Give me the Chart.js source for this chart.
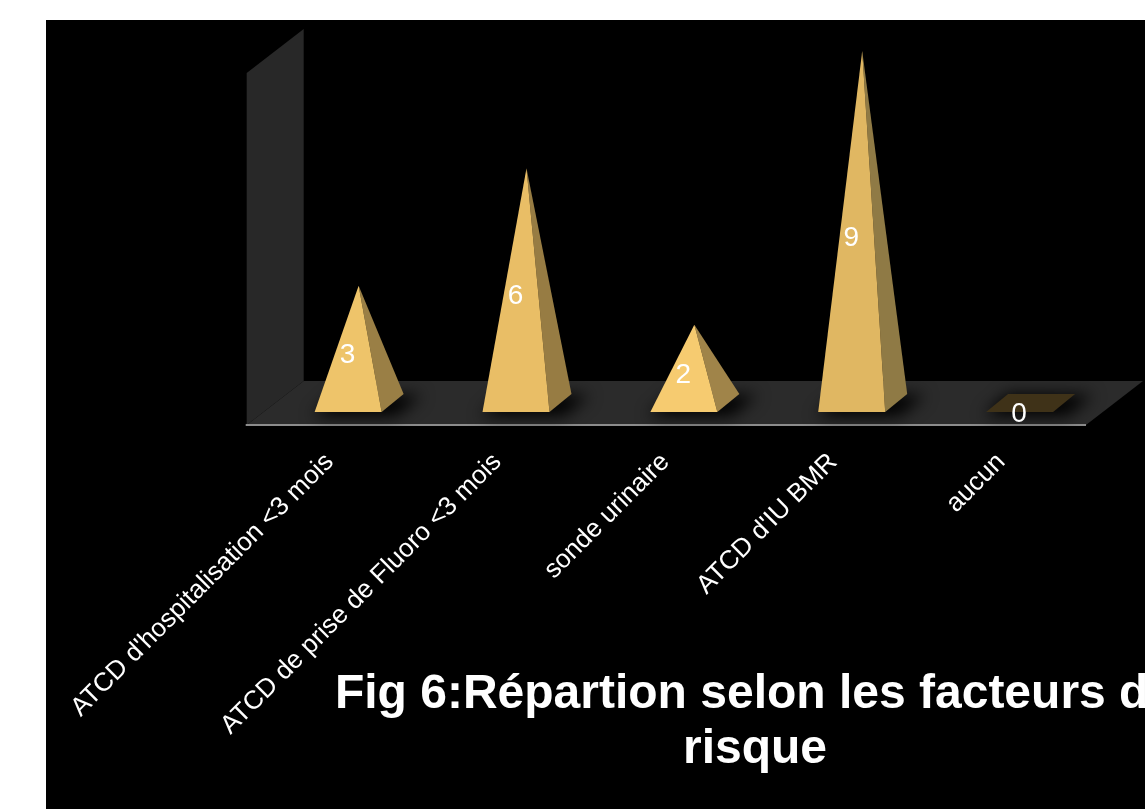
<!DOCTYPE html>
<html>
<head>
<meta charset="utf-8">
<title>Répartion selon les facteurs de risque</title>
<script src="https://cdn.jsdelivr.net/npm/chart.js@4"></script>
<style>
    html, body { margin: 0; height: 100%; background: #fff; overflow: hidden; }
    #chart { position: absolute; left: 46px; top: 20px; background: #000; }
</style>
</head>
<body>
<canvas id="chart" width="1099" height="789"></canvas>
<script>
const categories = [
    "ATCD d'hospitalisation <3 mois",
    "ATCD de prise de Fluoro <3 mois",
    "sonde urinaire",
    "ATCD d'IU BMR",
    "aucun"
];
const counts = [3, 6, 2, 9, 0];
const titleLines = ["Fig 6:Répartion selon les facteurs de", "risque"];

const faceColors = ['#EEC46A', '#E9BE66', '#F6CB70', '#E0B762', '#3F3218'];
const sideColors = ['#9A7F45', '#977C43', '#A08449', '#8F7A45', '#3F3218'];

// offsets of the fake 3D box around the plot area
const BACK = { x: 29, y: -22 };
const FRONT = { x: -28, y: 22 };

function fillPoly(ctx, pts, color) {
    ctx.fillStyle = color;
    ctx.beginPath();
    pts.forEach((p, i) => i ? ctx.lineTo(p[0], p[1]) : ctx.moveTo(p[0], p[1]));
    ctx.closePath();
    ctx.fill();
}

const boxPlugin = {
    id: 'box3d',
    beforeDatasetsDraw(chart) {
        const { ctx, chartArea: a } = chart;
        // back wall
        fillPoly(ctx, [
            [a.left + FRONT.x, a.top + FRONT.y],
            [a.left + BACK.x, a.top + BACK.y],
            [a.left + BACK.x, a.bottom + BACK.y],
            [a.left + FRONT.x, a.bottom + FRONT.y]
        ], '#282828');
        // floor
        fillPoly(ctx, [
            [a.left + FRONT.x, a.bottom + FRONT.y],
            [a.left + BACK.x, a.bottom + BACK.y],
            [a.right + BACK.x, a.bottom + BACK.y],
            [a.right + FRONT.x, a.bottom + FRONT.y]
        ], '#2B2B2B');
        // front edge of the floor
        ctx.strokeStyle = '#8C8C8C';
        ctx.lineWidth = 2;
        ctx.beginPath();
        ctx.moveTo(a.left + FRONT.x - 1, a.bottom + FRONT.y);
        ctx.lineTo(a.right + FRONT.x, a.bottom + FRONT.y);
        ctx.stroke();
    }
};

const pyramidPlugin = {
    id: 'pyramids',
    afterDatasetsDraw(chart) {
        const ctx = chart.ctx;
        const bars = chart.getDatasetMeta(0).data;
        const zero = chart.scales.y.getPixelForValue(0);

        bars.forEach((bar, i) => {
            const x = bar.x;
            const apex = [x, bar.y];
            const fl = [x - 44, zero + 9];
            const fr = [x + 23, zero + 9];
            const br = [x + 45, zero - 9];
            const bl = [x - 22, zero - 9];

            // soft shadow under the base
            ctx.save();
            ctx.filter = 'blur(8px)';
            fillPoly(ctx, [[fl[0] - 2, fl[1] + 4], [fr[0] + 14, fr[1] + 4], [br[0] + 18, br[1] + 1], [bl[0], bl[1]]], '#000');
            ctx.restore();

            if (counts[i] === 0) {
                fillPoly(ctx, [fl, fr, br, bl], faceColors[i]);
            } else {
                fillPoly(ctx, [apex, fr, br], sideColors[i]);
                fillPoly(ctx, [apex, fl, fr], faceColors[i]);
            }

            // value label, on the front face
            ctx.fillStyle = '#fff';
            ctx.font = '28px "Liberation Sans"';
            ctx.textAlign = 'center';
            ctx.textBaseline = 'middle';
            ctx.fillText(counts[i], x - 11, (bar.y + zero) / 2 + 11);
        });
    }
};

// the title is centred on its own axis, not on the plot area, so it is drawn here
const figTitlePlugin = {
    id: 'figTitle',
    afterDraw(chart) {
        const ctx = chart.ctx;
        ctx.save();
        ctx.fillStyle = '#fff';
        ctx.font = 'bold 48px "Liberation Sans"';
        ctx.textAlign = 'center';
        ctx.textBaseline = 'middle';
        titleLines.forEach((line, i) => ctx.fillText(line, 709, 675 + i * 55));
        ctx.restore();
    }
};

new Chart(document.getElementById('chart'), {
    type: 'bar',
    data: {
        labels: categories,
        datasets: [{ data: counts, backgroundColor: 'transparent', borderWidth: 0 }]
    },
    options: {
        responsive: false,
        animation: false,
        layout: {
            autoPadding: false,
            padding: { left: 226, right: 31, top: 31, bottom: 0 }
        },
        scales: {
            x: {
                grid: { display: false },
                border: { display: false },
                afterFit: (scale) => { scale.height = 406; },
                ticks: {
                    color: '#fff',
                    font: { family: '"Liberation Sans"', size: 26 },
                    minRotation: 45,
                    maxRotation: 45,
                    autoSkip: false,
                    padding: 36,
                    labelOffset: -29
                }
            },
            y: { display: false, min: 0, max: 9 }
        },
        plugins: {
            legend: { display: false },
            tooltip: { enabled: false }
        }
    },
    plugins: [boxPlugin, pyramidPlugin, figTitlePlugin]
});
</script>
</body>
</html>
